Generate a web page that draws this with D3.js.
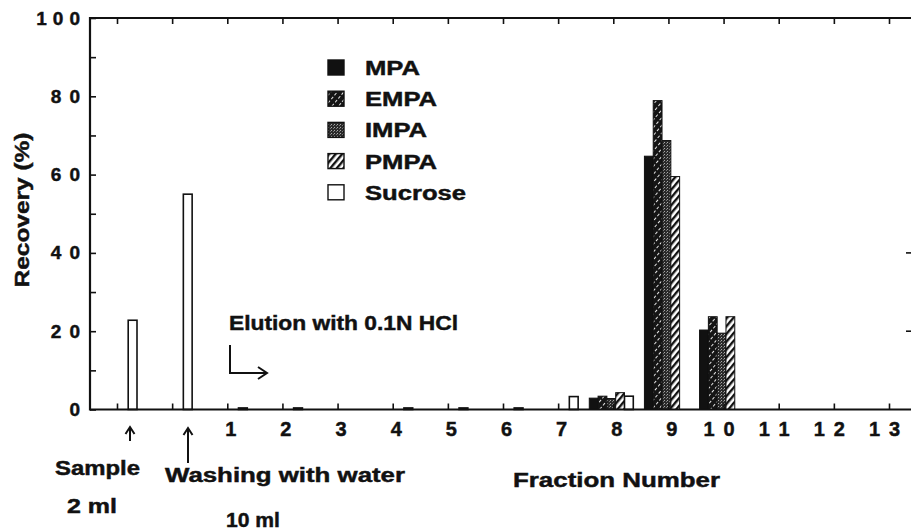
<!DOCTYPE html>
<html>
<head>
<meta charset="utf-8">
<script src="https://cdn.jsdelivr.net/npm/d3@7"></script>
<style>
  html, body { margin: 0; padding: 0; background: #fff; }
  svg { display: block; }
  text { font-family: "Liberation Sans", Arial, Helvetica, sans-serif; font-weight: bold; fill: #111;
         stroke: #111; stroke-width: 0.45px; paint-order: stroke; }
</style>
</head>
<body>
<svg id="chart" width="911" height="531"></svg>
<script>
// ---- data ----
const fractions = [-1, 0, 1, 2, 3, 4, 5, 6, 7, 8, 9, 10, 11, 12, 13];
const fractionLabels = ["", "", "1", "2", "3", "4", "5", "6", "7", "8", "9", "10", "11", "12", "13"];
const seriesNames = ["MPA", "EMPA", "IMPA", "PMPA", "Sucrose"];
const mpa     = [0, 0, 0, 0, 0, 0, 0, 0, 0, 2.9, 64.7, 20.3, 0, 0, 0];
const empa    = [0, 0, 0, 0, 0, 0, 0, 0, 0, 3.4, 78.9, 23.7, 0, 0, 0];
const impa    = [0, 0, 0, 0, 0, 0, 0, 0, 0, 2.8, 68.7, 19.5, 0, 0, 0];
const pmpa    = [0, 0, 0, 0, 0, 0, 0, 0, 0, 4.3, 59.5, 23.7, 0, 0, 0];
const sucrose = [22.8, 55.0, 0.4, 0.4, 0, 0.4, 0.4, 0.4, 3.3, 3.4, 0, 0, 0, 0, 0];
const yTicks = [0, 10, 20, 30, 40, 50, 60, 70, 80, 90, 100];
const yLabelTicks = [0, 20, 40, 60, 80, 100];
const rightTicks = [20, 40];

const seriesValues = { MPA: mpa, EMPA: empa, IMPA: impa, PMPA: pmpa, Sucrose: sucrose };

// ---- layout ----
const svg = d3.select("#chart");
const pLeft = 90, pRight = 911, pTop = 18, pBottom = 409.5;

const x = d3.scaleLinear().domain([-1, 13]).range([117, 889]);
const y = d3.scaleLinear().domain([0, 100]).range([pBottom, pTop]);
const sub = d3.scaleBand().domain(seriesNames).range([-24, 20]);

// stretch text horizontally (the original typeface is a wide bold grotesque)
function stretch(sel, factor, mode) {
  sel.each(function () {
    const w = this.getComputedTextLength();
    if (w > 0) d3.select(this).attr("textLength", w * factor).attr("lengthAdjust", mode || "spacingAndGlyphs");
  });
}

// ---- patterns ----
const defs = svg.append("defs");
const pE = defs.append("pattern").attr("id", "pat-empa").attr("patternUnits", "userSpaceOnUse")
  .attr("width", 5).attr("height", 5).attr("patternTransform", "rotate(40)");
pE.append("rect").attr("width", 5).attr("height", 5).attr("fill", "#151515");
pE.append("line").attr("x1", 2.5).attr("y1", 0).attr("x2", 2.5).attr("y2", 5)
  .attr("stroke", "#fff").attr("stroke-width", 0.9).attr("stroke-dasharray", "3,2");

const pI = defs.append("pattern").attr("id", "pat-impa").attr("patternUnits", "userSpaceOnUse")
  .attr("width", 3).attr("height", 3);
pI.append("rect").attr("width", 3).attr("height", 3).attr("fill", "#2a2a2a");
pI.append("rect").attr("x", 1).attr("y", 1).attr("width", 1).attr("height", 1).attr("fill", "#aaa");
pI.append("rect").attr("x", 0).attr("y", 2).attr("width", 1).attr("height", 1).attr("fill", "#777");

const pP = defs.append("pattern").attr("id", "pat-pmpa").attr("patternUnits", "userSpaceOnUse")
  .attr("width", 5).attr("height", 5).attr("patternTransform", "rotate(40)");
pP.append("rect").attr("width", 5).attr("height", 5).attr("fill", "#fff");
pP.append("rect").attr("x", 0).attr("y", 0).attr("width", 2.4).attr("height", 5).attr("fill", "#111");

const fills = { MPA: "#111", EMPA: "url(#pat-empa)", IMPA: "url(#pat-impa)", PMPA: "url(#pat-pmpa)", Sucrose: "#fff" };

// ---- bars ----
const barData = [];
seriesNames.forEach(s => {
  seriesValues[s].forEach((v, i) => {
    if (v > 0) barData.push({ s, f: fractions[i], v });
  });
});
svg.append("g").selectAll("rect").data(barData).join("rect")
  .attr("x", d => x(d.f) + sub(d.s))
  .attr("width", sub.bandwidth())
  .attr("y", d => y(d.v))
  .attr("height", d => y(0) - y(d.v))
  .attr("fill", d => fills[d.s])
  .attr("stroke", "#111")
  .attr("stroke-width", d => d.s === "Sucrose" ? 1.6 : 1);

// ---- axes ----
const frame = svg.append("g").attr("stroke", "#111").attr("stroke-width", 2.2).attr("fill", "none");
frame.append("line").attr("x1", pLeft).attr("x2", pRight).attr("y1", pBottom).attr("y2", pBottom);
frame.append("line").attr("x1", pLeft).attr("x2", pRight).attr("y1", pTop).attr("y2", pTop);
frame.append("line").attr("x1", pLeft).attr("x2", pLeft).attr("y1", pTop - 1).attr("y2", pBottom + 1);

// bottom axis
const bAxis = svg.append("g").attr("transform", `translate(0,${pBottom})`)
  .call(d3.axisBottom(x).tickValues(fractions).tickSizeInner(-6).tickSizeOuter(0).tickPadding(12)
    .tickFormat((d, i) => fractionLabels[i]));
bAxis.select(".domain").remove();
bAxis.selectAll(".tick line").attr("stroke", "#111").attr("stroke-width", 1.6);
bAxis.selectAll(".tick text")
  .attr("font-size", 20).attr("font-family", null)
  .attr("dx", (d, i) => fractionLabels[i].length === 1 ? 3 : -5);
bAxis.selectAll(".tick text").filter((d, i) => fractionLabels[i].length > 1)
  .attr("textLength", 31).attr("lengthAdjust", "spacing");

// top axis
const tAxis = svg.append("g").attr("transform", `translate(0,${pTop})`)
  .call(d3.axisTop(x).tickValues(fractions).tickSizeInner(-6).tickSizeOuter(0).tickFormat(""));
tAxis.select(".domain").remove();
tAxis.selectAll(".tick line").attr("stroke", "#111").attr("stroke-width", 1.6);

// left axis
const lAxis = svg.append("g").attr("transform", `translate(${pLeft},0)`)
  .call(d3.axisLeft(y).tickValues(yTicks).tickSizeInner(-6).tickSizeOuter(0).tickPadding(10)
    .tickFormat(d => yLabelTicks.includes(d) ? d : ""));
lAxis.select(".domain").remove();
lAxis.selectAll(".tick line").attr("stroke", "#111").attr("stroke-width", 1.6);
lAxis.selectAll(".tick text").attr("font-size", 19).attr("font-family", null);
stretch(lAxis.selectAll(".tick text").filter(d => d >= 10), 1.38, "spacing");

// right edge ticks
svg.append("g").selectAll("line").data(rightTicks).join("line")
  .attr("x1", 906).attr("x2", 912).attr("y1", d => y(d)).attr("y2", d => y(d))
  .attr("stroke", "#111").attr("stroke-width", 1.6);

// y title
svg.append("text")
  .attr("transform", "translate(29,210) rotate(-90)")
  .attr("text-anchor", "middle")
  .attr("font-size", 21)
  .attr("textLength", 155).attr("lengthAdjust", "spacingAndGlyphs")
  .text("Recovery (%)");

// ---- legend ----
const legend = svg.append("g");
seriesNames.forEach((s, i) => {
  const by = 75 + i * 31.2;
  legend.append("rect").attr("x", 328).attr("y", by - 15).attr("width", 16).attr("height", 15)
    .attr("fill", fills[s]).attr("stroke", "#111").attr("stroke-width", 1.4);
  legend.append("text").attr("class", "legtxt").attr("x", 365).attr("y", by).attr("font-size", 20).text(s);
});
stretch(legend.selectAll(".legtxt"), 1.28);

// ---- annotations ----
function label(txt, xx, yy, w) {
  svg.append("text").attr("x", xx).attr("y", yy).attr("font-size", 20)
    .attr("textLength", w).attr("lengthAdjust", "spacingAndGlyphs").text(txt);
}
label("Elution with 0.1N HCl", 229, 330, 229);
label("Sample", 55, 475, 85);
label("2 ml", 67, 513, 50);
label("Washing with water", 165, 482, 240);
label("10 ml", 226, 527, 54);
label("Fraction Number", 513, 487, 207);

const ann = svg.append("g").attr("stroke", "#111").attr("stroke-width", 2).attr("fill", "none");
// elution bent arrow
ann.append("path").attr("d", "M230,345 V373 H266");
ann.append("path").attr("d", "M258,367 L267,373 L258,379");
// sample arrow
ann.append("path").attr("d", "M130,441 V428");
ann.append("path").attr("d", "M125.5,434 L130,427 L134.5,434");
// washing arrow
ann.append("path").attr("d", "M188,463 V429");
ann.append("path").attr("d", "M183.5,435 L188,428 L192.5,435");
</script>
</body>
</html>
